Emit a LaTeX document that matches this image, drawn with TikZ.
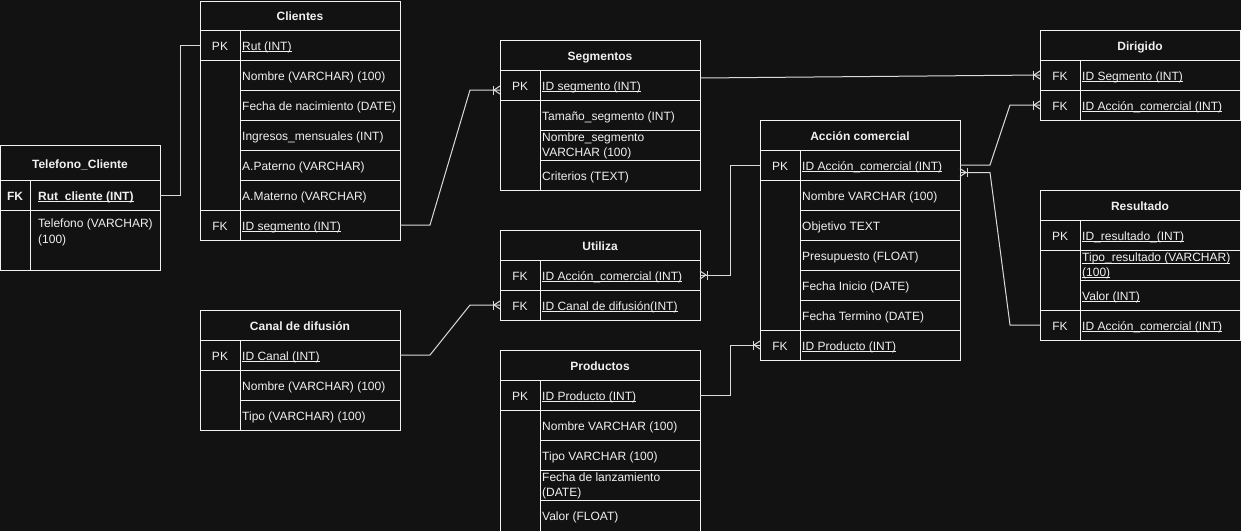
\documentclass[tikz,border=0pt]{standalone}
\usepackage{fontspec}
\setmainfont{Liberation Sans}
\definecolor{bg}{HTML}{121212}
\definecolor{bd}{HTML}{F2F2F2}
\definecolor{cn}{HTML}{DADADA}
\definecolor{tx}{HTML}{F0F0F0}
\newcommand{\erul}[1]{\leavevmode\setbox0\hbox{#1}\rlap{\rule[-1.8pt]{\wd0}{0.9pt}}\box0}
\newcommand{\crowfoot}[2]{%
  \begin{scope}[shift={#1},rotate=#2]
    \draw[conn] (-7,-4.5) -- (-7,4.5);
    \draw[conn] (0,4) -- (-6,0) -- (0,-4);
  \end{scope}}
\begin{document}
\begin{tikzpicture}[x=1pt,y=-1pt,
  tbl/.style={draw=bd,line width=1pt},
  conn/.style={draw=cn,line width=1pt},
  ttl/.style={text=tx,font=\fontsize{12}{14.4}\selectfont\bfseries,inner sep=0,anchor=base,yshift=-5pt},
  keyc/.style={text=tx,font=\fontsize{12}{14.4}\selectfont,inner sep=0,anchor=base,yshift=-5pt},
  fld/.style={text=tx,font=\fontsize{12}{14.4}\selectfont,inner sep=0,anchor=base west,yshift=-5pt},
  fld2/.style={text=tx,font=\fontsize{12}{14.4}\selectfont,inner sep=0,anchor=west,align=left}]
\useasboundingbox[fill=bg] (0,0) rectangle (1241,531);

% ---------- Telefono_Cliente ----------
\draw[tbl] (0.5,145) rectangle (160,270);
\draw[tbl] (0.5,180) -- (160,180) (0.5,210) -- (160,210) (30,180) -- (30,270);
\node[ttl,yshift=-0.8pt] (telT) at (80,162.5) {Telefono\_Cliente};
\node[keyc,font=\fontsize{12}{14.4}\selectfont\bfseries] (telK1) at (15,195) {FK};
\node[fld,font=\fontsize{12}{14.4}\selectfont\bfseries] (telF1) at (38,195) {\erul{Rut\_cliente (INT)}};
\node[fld2,anchor=north west,font=\fontsize{12}{15.5}\selectfont] (telF2) at (38,219) {Telefono (VARCHAR)\\(100)};

% ---------- Clientes ----------
\draw[tbl] (200,1) rectangle (400,240);
\draw[tbl] (200,30) -- (400,30) (200,60) -- (400,60) (200,210) -- (400,210) (240,30) -- (240,240);
\draw[tbl] (240,90) -- (400,90) (240,120) -- (400,120) (240,150) -- (400,150) (240,180) -- (400,180);
\node[ttl] (cliT) at (300,15.5) {Clientes};
\node[keyc] (cliK1) at (220,45) {PK};
\node[fld] (cliF1) at (242,45) {\erul{Rut (INT)}};
\node[fld] (cliF2) at (242,75) {Nombre (VARCHAR) (100)};
\node[fld] (cliF3) at (242,105) {Fecha de nacimiento (DATE)};
\node[fld] (cliF4) at (242,135) {Ingresos\_mensuales (INT)};
\node[fld] (cliF5) at (242,165) {A.Paterno (VARCHAR)};
\node[fld] (cliF6) at (242,195) {A.Materno (VARCHAR)};
\node[keyc] (cliK2) at (220,225) {FK};
\node[fld] (cliF7) at (242,225) {\erul{ID segmento (INT)}};

% ---------- Segmentos ----------
\draw[tbl] (500,40) rectangle (700,190);
\draw[tbl] (500,70) -- (700,70) (500,100) -- (700,100) (540,70) -- (540,190);
\draw[tbl] (540,130) -- (700,130) (540,160) -- (700,160);
\node[ttl] (segT) at (600,55) {Segmentos};
\node[keyc] (segK1) at (520,85) {PK};
\node[fld] (segF1) at (542,85) {\erul{ID segmento (INT)}};
\node[fld] (segF2) at (542,115) {Tamaño\_segmento (INT)};
\node[fld2] (segF3) at (542,146) {Nombre\_segmento\\VARCHAR (100)};
\node[fld] (segF4) at (542,175) {Criterios (TEXT)};

% ---------- Utiliza ----------
\draw[tbl] (500,230) rectangle (700,320);
\draw[tbl] (500,260) -- (700,260) (500,290) -- (700,290) (540,260) -- (540,320);
\node[ttl] (utiT) at (600,245) {Utiliza};
\node[keyc] (utiK1) at (520,275) {FK};
\node[fld] (utiF1) at (542,275) {\erul{ID Acción\_comercial (INT)}};
\node[keyc] (utiK2) at (520,305) {FK};
\node[fld] (utiF2) at (542,305) {\erul{ID Canal de difusión(INT)}};

% ---------- Canal de difusion ----------
\draw[tbl] (200,310) rectangle (400,430);
\draw[tbl] (200,340) -- (400,340) (200,370) -- (400,370) (240,340) -- (240,430);
\draw[tbl] (240,400) -- (400,400);
\node[ttl] (canT) at (300,325) {Canal de difusión};
\node[keyc] (canK1) at (220,355) {PK};
\node[fld] (canF1) at (242,355) {\erul{ID Canal (INT)}};
\node[fld] (canF2) at (242,385) {Nombre (VARCHAR) (100)};
\node[fld] (canF3) at (242,415) {Tipo (VARCHAR) (100)};

% ---------- Productos ----------
\draw[tbl] (500,540) -- (500,350) -- (700,350) -- (700,540);
\draw[tbl] (500,380) -- (700,380) (500,410) -- (700,410) (540,380) -- (540,540);
\draw[tbl] (540,440) -- (700,440) (540,470) -- (700,470) (540,500) -- (700,500);
\node[ttl] (proT) at (600,365) {Productos};
\node[keyc] (proK1) at (520,395) {PK};
\node[fld] (proF1) at (542,395) {\erul{ID Producto (INT)}};
\node[fld] (proF2) at (542,425) {Nombre VARCHAR (100)};
\node[fld] (proF3) at (542,455) {Tipo VARCHAR (100)};
\node[fld2] (proF4) at (542,486) {Fecha de lanzamiento\\(DATE)};
\node[fld] (proF5) at (542,515) {Valor (FLOAT)};

% ---------- Accion comercial ----------
\draw[tbl] (760,120) rectangle (960,360);
\draw[tbl] (760,150) -- (960,150) (760,180) -- (960,180) (760,330) -- (960,330) (800,150) -- (800,360);
\draw[tbl] (800,210) -- (960,210) (800,240) -- (960,240) (800,270) -- (960,270) (800,300) -- (960,300);
\node[ttl] (accT) at (860,135) {Acción comercial};
\node[keyc] (accK1) at (780,165) {PK};
\node[fld] (accF1) at (802,165) {\erul{ID Acción\_comercial (INT)}};
\node[fld] (accF2) at (802,195) {Nombre VARCHAR (100)};
\node[fld] (accF3) at (802,225) {Objetivo TEXT};
\node[fld] (accF4) at (802,255) {Presupuesto (FLOAT)};
\node[fld] (accF5) at (802,285) {Fecha Inicio (DATE)};
\node[fld] (accF6) at (802,315) {Fecha Termino (DATE)};
\node[keyc] (accK2) at (780,345) {FK};
\node[fld] (accF7) at (802,345) {\erul{ID Producto (INT)}};

% ---------- Dirigido ----------
\draw[tbl] (1040,30) rectangle (1240,120);
\draw[tbl] (1040,60) -- (1240,60) (1040,90) -- (1240,90) (1080,60) -- (1080,120);
\node[ttl] (dirT) at (1140,45) {Dirigido};
\node[keyc] (dirK1) at (1060,75) {FK};
\node[fld] (dirF1) at (1082,75) {\erul{ID Segmento (INT)}};
\node[keyc] (dirK2) at (1060,105) {FK};
\node[fld] (dirF2) at (1082,105) {\erul{ID Acción\_comercial (INT)}};

% ---------- Resultado ----------
\draw[tbl] (1040,190) rectangle (1240,340);
\draw[tbl] (1040,220) -- (1240,220) (1040,250) -- (1240,250) (1040,310) -- (1240,310) (1080,220) -- (1080,340);
\draw[tbl] (1080,280) -- (1240,280);
\node[ttl] (resT) at (1140,205) {Resultado};
\node[keyc] (resK1) at (1060,235) {PK};
\node[fld] (resF1) at (1082,235) {\erul{ID\_resultado\_(INT)}};
\node[fld2] (resF2) at (1082,266) {\erul{Tipo\_resultado (VARCHAR)}\\\erul{(100)}};
\node[fld] (resF3) at (1082,295) {\erul{Valor (INT)}};
\node[keyc] (resK2) at (1060,325) {FK};
\node[fld] (resF4) at (1082,325) {\erul{ID Acción\_comercial (INT)}};

% ---------- attachment points ----------
\coordinate (telR) at (160,195);
\coordinate (cliPKl) at (200,45);
\coordinate (cliFKr) at (400,225);
\coordinate (segPKl) at (500,90);
\coordinate (segPKr) at (700,78);
\coordinate (utiFK1r) at (700,275);
\coordinate (utiFK2l) at (500,305);
\coordinate (canPKr) at (400,355);
\coordinate (proPKr) at (700,395);
\coordinate (accPKl) at (760,165);
\coordinate (accPKr) at (960,165);
\coordinate (accPKr2) at (960,172.5);
\coordinate (accFKl) at (760,345);
\coordinate (dirFK1l) at (1040,75);
\coordinate (dirFK2l) at (1040,105);
\coordinate (resFKl) at (1040,325);

% ---------- connectors ----------
\draw[conn] (telR) -- ++(20,0) |- (cliPKl);
\draw[conn] (cliFKr) -- ++(30,0) -- ([xshift=-30pt]segPKl) -- (segPKl);
\draw[conn] (canPKr) -- ++(30,0) -- ([xshift=-30pt]utiFK2l) -- (utiFK2l);
\draw[conn] (accPKl) -- ++(-30,0) |- (utiFK1r);
\draw[conn] (proPKr) -- ++(30,0) |- (accFKl);
\draw[conn] (segPKr) -- (dirFK1l);
\draw[conn] (accPKr) -- ++(30,0) -- ([xshift=-30pt]dirFK2l) -- (dirFK2l);
\draw[conn] (accPKr2) -- ++(30,0) -- ([xshift=-30pt]resFKl) -- (resFKl);

\crowfoot{(segPKl)}{0}
\crowfoot{(utiFK2l)}{0}
\crowfoot{(utiFK1r)}{180}
\crowfoot{(accFKl)}{0}
\crowfoot{(dirFK1l)}{0}
\crowfoot{(dirFK2l)}{0}
\crowfoot{(accPKr2)}{180}
\end{tikzpicture}
\end{document}
